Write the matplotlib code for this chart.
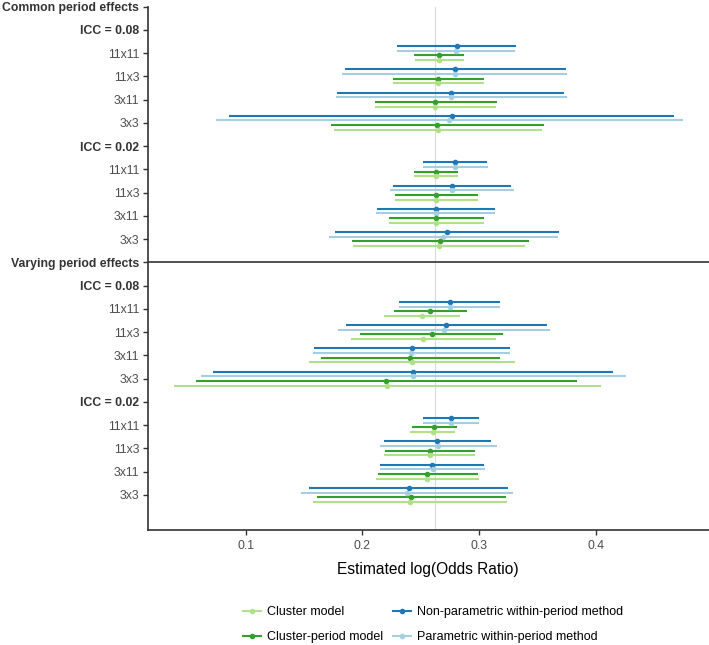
import numpy as np
import matplotlib
matplotlib.use("Agg")
import matplotlib.pyplot as plt
from matplotlib.lines import Line2D

plt.rcParams['font.family'] = ['Liberation Sans', 'DejaVu Sans']

# ---------------- data ----------------
y_labels = ["Common period effects", "ICC = 0.08", "11x11", "11x3", "3x11", "3x3",
            "ICC = 0.02", "11x11", "11x3", "3x11", "3x3",
            "Varying period effects", "ICC = 0.08", "11x11", "11x3", "3x11", "3x3",
            "ICC = 0.02", "11x11", "11x3", "3x11", "3x3"]
bold_labels = ["Common period effects", "Varying period effects", "ICC = 0.08", "ICC = 0.02"]
# slots of the design rows (order: common 0.08, common 0.02, varying 0.08, varying 0.02)
design_slots = [2, 3, 4, 5, 7, 8, 9, 10, 13, 14, 15, 16, 18, 19, 20, 21]

methods = ["Non-parametric within-period method", "Parametric within-period method",
           "Cluster-period model", "Cluster model"]
colors = ["#1F78B4", "#A6CEE3", "#33A02C", "#B2DF8A"]

np_est = [0.281, 0.2795, 0.276, 0.2767, 0.2798, 0.2767, 0.2628, 0.2725,
          0.2748, 0.2721, 0.2422, 0.2434, 0.2764, 0.264, 0.2597, 0.2399]
np_lo = [0.230, 0.1853, 0.1787, 0.086, 0.2523, 0.226, 0.2124, 0.1767,
         0.2318, 0.186, 0.1589, 0.0721, 0.2519, 0.2182, 0.2151, 0.1543]
np_hi = [0.332, 0.3748, 0.3729, 0.4674, 0.307, 0.3275, 0.314, 0.3682,
         0.3178, 0.3581, 0.3264, 0.4147, 0.3004, 0.3105, 0.3043, 0.3252]

p_est = [0.280, 0.279, 0.2764, 0.2744, 0.2795, 0.2767, 0.2632, 0.2694,
         0.2748, 0.2702, 0.2419, 0.2438, 0.2764, 0.2651, 0.2605, 0.2384]
p_lo = [0.2295, 0.183, 0.1775, 0.0748, 0.2523, 0.2236, 0.2116, 0.1713,
        0.2318, 0.1791, 0.1574, 0.062, 0.2519, 0.2155, 0.2151, 0.1473]
p_hi = [0.331, 0.3756, 0.3752, 0.4744, 0.3074, 0.3302, 0.3136, 0.3678,
        0.3178, 0.3609, 0.3267, 0.4256, 0.3004, 0.3155, 0.305, 0.3291]

cp_est = [0.2655, 0.265, 0.2624, 0.264, 0.2632, 0.2632, 0.2632, 0.2667,
          0.2581, 0.2593, 0.2407, 0.2202, 0.2616, 0.2581, 0.2558, 0.2419]
cp_lo = [0.2446, 0.2267, 0.2105, 0.1733, 0.2446, 0.2279, 0.2233, 0.1911,
         0.2275, 0.1984, 0.1643, 0.0574, 0.2422, 0.2198, 0.2132, 0.1612]
cp_hi = [0.2868, 0.3039, 0.3151, 0.3554, 0.2822, 0.2992, 0.3043, 0.3426,
         0.2895, 0.3202, 0.3178, 0.3841, 0.2814, 0.2969, 0.2988, 0.3229]

c_est = [0.2655, 0.265, 0.2624, 0.2647, 0.2632, 0.2632, 0.2632, 0.2655,
         0.2508, 0.2519, 0.2426, 0.2209, 0.2605, 0.2581, 0.2558, 0.2407]
c_lo = [0.245, 0.2267, 0.2105, 0.176, 0.2446, 0.2279, 0.2233, 0.1919,
        0.2186, 0.1899, 0.1543, 0.0391, 0.2407, 0.219, 0.2116, 0.1574]
c_hi = [0.287, 0.3039, 0.3147, 0.3539, 0.2822, 0.2992, 0.3043, 0.3391,
        0.2833, 0.3147, 0.331, 0.4047, 0.2798, 0.2969, 0.3, 0.324]

true_value = 0.2624
x_ticks = [0.1, 0.2, 0.3, 0.4]

series = [(np_est, np_lo, np_hi), (p_est, p_lo, p_hi),
          (cp_est, cp_lo, cp_hi), (c_est, c_lo, c_hi)]
offsets = [-0.3, -0.1, 0.1, 0.3]

# ---------------- figure ----------------
fig = plt.figure(figsize=(7.09, 6.45), dpi=100)
ax = fig.add_axes([147.5 / 709, 1 - 530 / 645, 1 - 147.5 / 709, (530 - 6.5) / 645])

ax.axvline(true_value, color="#DADADA", lw=0.8, zorder=0)

for (est, lo, hi), off, col, name in zip(series, offsets, colors, methods):
    est = np.array(est); lo = np.array(lo); hi = np.array(hi)
    y = np.array(design_slots) + off
    ax.errorbar(est, y, xerr=[est - lo, hi - est], fmt='o', color=col, ecolor=col,
                elinewidth=1.5, capsize=0, ms=3.0, zorder=3)

ax.axhline(11, color="#222222", lw=1.1, zorder=2)

ax.set_ylim(22.51, 0)
ax.set_xlim(0.016, 0.497)
ax.tick_params(axis='y', labelsize=8.8, length=3.5, width=1.0, color="#333333", pad=2.5)
ax.tick_params(axis='x', labelsize=8.8, length=3.5, width=1.0, color="#333333", pad=4)
ax.set_yticks(range(len(y_labels)))
ax.set_yticklabels(y_labels)
for t in ax.get_yticklabels():
    if t.get_text() in bold_labels:
        t.set_fontweight('bold')
        t.set_color("#333333")
    else:
        t.set_color("#4D4D4D")
ax.set_xticks(x_ticks)
ax.set_xticklabels([f"{v:.1f}" for v in x_ticks])
for t in ax.get_xticklabels():
    t.set_color("#4D4D4D")
ax.set_xlabel("Estimated log(Odds Ratio)", fontsize=11.2, color="black", labelpad=7)

for s in ["top", "right"]:
    ax.spines[s].set_visible(False)
for s in ["left", "bottom"]:
    ax.spines[s].set_color("#333333")
    ax.spines[s].set_linewidth(1.2)

# legend (column-major: Cluster, Cluster-period | NP, P)
leg_order = [3, 2, 0, 1]
handles = [Line2D([0], [0], color=colors[i], lw=1.5, marker='o', ms=3.0) for i in leg_order]
labels = [methods[i] for i in leg_order]
fig.legend(handles, labels, ncol=2, loc='center', bbox_to_anchor=(0.611, 0.0318),
           frameon=False, fontsize=9, handlelength=1.4, handletextpad=0.5,
           columnspacing=0.8, labelspacing=1.05)

fig.savefig("out.png", dpi=100)
